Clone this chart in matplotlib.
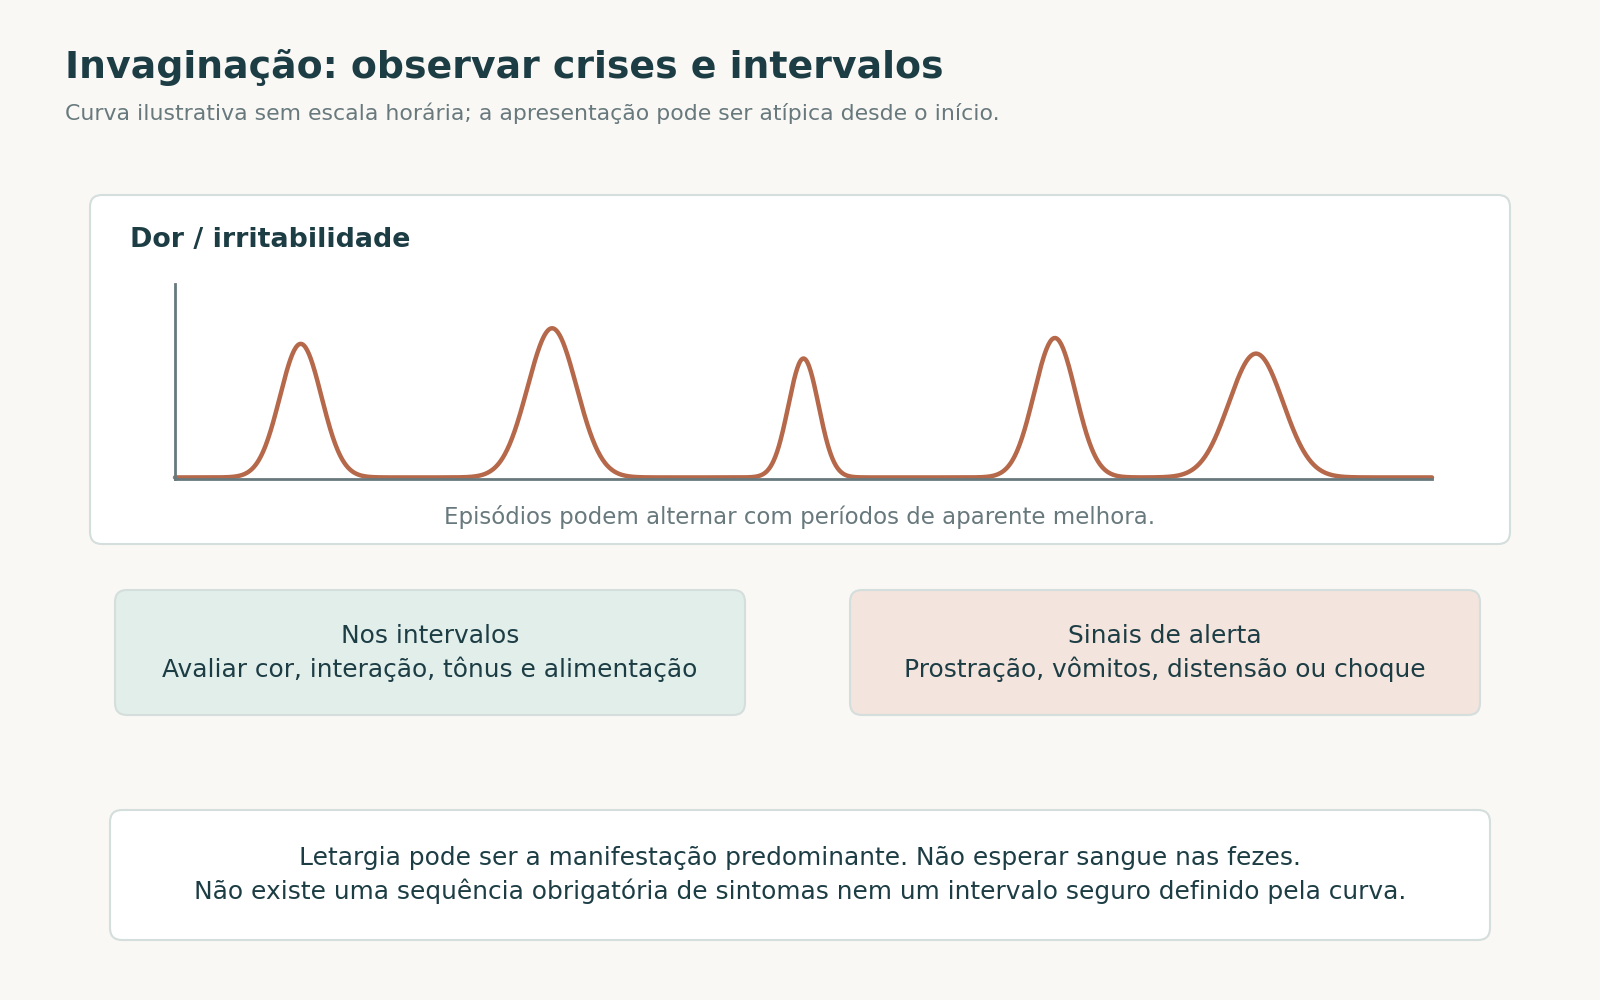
import numpy as np
import matplotlib
matplotlib.use('Agg')
import matplotlib.pyplot as plt
from matplotlib.patches import FancyBboxPatch

# illustrative pain episodes: centre, height and spread of each crisis
peak_centres = [0.10, 0.30, 0.50, 0.70, 0.86]
peak_heights = [0.685, 0.765, 0.61, 0.715, 0.635]
peak_widths = [0.0165, 0.0195, 0.0120, 0.0165, 0.0215]

title = 'Invaginação: observar crises e intervalos'
subtitle = 'Curva ilustrativa sem escala horária; a apresentação pode ser atípica desde o início.'
panel_title = 'Dor / irritabilidade'
panel_note = 'Episódios podem alternar com períodos de aparente melhora.'
box_texts = ['Nos intervalos\nAvaliar cor, interação, tônus e alimentação',
             'Sinais de alerta\nProstração, vômitos, distensão ou choque']
footer_text = ('Letargia pode ser a manifestação predominante. Não esperar sangue nas fezes.\n'
               'Não existe uma sequência obrigatória de sintomas nem um intervalo seguro definido pela curva.')

BG = '#f9f8f5'
DARK = '#1d3d45'
GREY = '#68797d'
BORDER = '#d4dedc'
CURVE = '#b5684a'

W, H = 1600, 1000
fig = plt.figure(figsize=(16, 10), dpi=100, facecolor=BG)
bg = fig.add_axes([0, 0, 1, 1])
bg.set_xlim(0, W)
bg.set_ylim(H, 0)
bg.axis('off')


def card(x0, y0, x1, y1, face, edge=BORDER):
    p = FancyBboxPatch((x0, y0), x1 - x0, y1 - y0,
                       boxstyle='round,pad=0,rounding_size=12',
                       facecolor=face, edgecolor=edge, linewidth=1.5)
    bg.add_patch(p)


bg.text(65, 67, title, fontsize=27.3, fontweight='bold', color=DARK, va='center')
bg.text(65, 113, subtitle, fontsize=15.8, color=GREY, va='center')

# main panel
card(90, 195, 1510, 544, 'white')
bg.text(130, 240, panel_title, fontsize=19.4, fontweight='bold', color=DARK, va='center')
bg.text(800, 517, panel_note, fontsize=16.5, color=GREY, va='center', ha='center')

# two info boxes
card(115, 590, 745, 715, '#e2eeea')
card(850, 590, 1480, 715, '#f3e4dd')
for cx, txt in zip([430, 1165], box_texts):
    bg.text(cx, 653, txt, fontsize=17.9, color=DARK, ha='center', va='center',
            linespacing=1.42)

# footer box
card(110, 810, 1490, 940, 'white')
bg.text(800, 875, footer_text, fontsize=17.9, color=DARK, ha='center', va='center',
        linespacing=1.42)

# curve axes placed in pixel space
x_left, x_right = 175, 1432
y_base, y_top = 479, 284
ax = fig.add_axes([x_left / W, 1 - y_base / H, (x_right - x_left) / W, (y_base - y_top) / H])
ax.patch.set_alpha(0)
ax.set_xlim(0, 1)
ax.set_ylim(0, 1)
for s in ['top', 'right']:
    ax.spines[s].set_visible(False)
for s in ['left', 'bottom']:
    ax.spines[s].set_color(GREY)
    ax.spines[s].set_linewidth(2)
ax.set_xticks([])
ax.set_yticks([])

x = np.linspace(0, 1, 1500)
y = np.full_like(x, 0.008)
for c, h, w in zip(peak_centres, peak_heights, peak_widths):
    y += h * np.exp(-0.5 * ((x - c) / w) ** 2)
ax.plot(x, y, color=CURVE, linewidth=3.2, solid_capstyle='round', clip_on=False)

fig.savefig('out.png', dpi=100, facecolor=BG)
